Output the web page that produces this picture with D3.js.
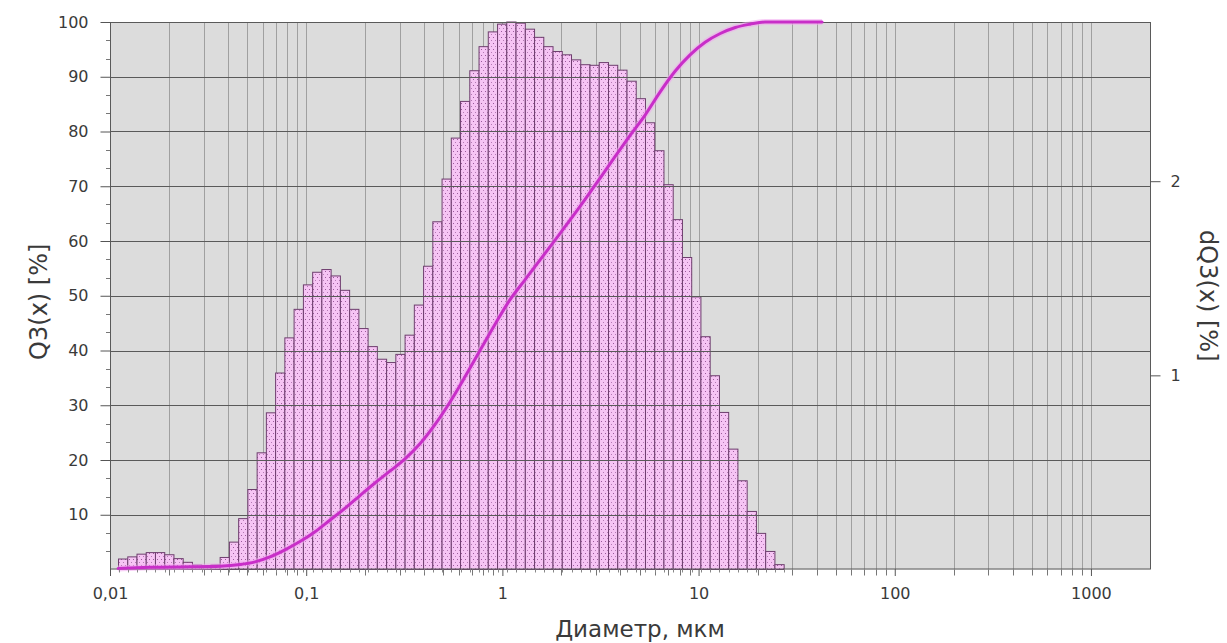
<!DOCTYPE html>
<html>
<head>
<meta charset="utf-8">
<script src="https://cdn.jsdelivr.net/npm/d3@7"></script>
<style>
  html, body { margin: 0; padding: 0; background: #ffffff; }
  svg { display: block; }
  text { font-family: "DejaVu Sans", Verdana, sans-serif; }
</style>
</head>
<body>
<svg id="chart" width="1227" height="643"></svg>
<script>
// Size class boundaries, µm
const binEdges = [
  0.01105, 0.01232, 0.01373, 0.01530, 0.01705, 0.01901, 0.02118, 0.02361, 0.02632, 0.02933,
  0.03269, 0.03643, 0.04061, 0.04526, 0.05044, 0.05623, 0.06267, 0.06984, 0.07785, 0.08677,
  0.09679, 0.1079, 0.1202, 0.1340, 0.1494, 0.1665, 0.1856, 0.2068, 0.2305, 0.2570,
  0.2864, 0.3192, 0.3558, 0.3966, 0.4420, 0.4927, 0.5491, 0.6120, 0.6822, 0.7604,
  0.8475, 0.9450, 1.053, 1.174, 1.309, 1.459, 1.626, 1.812, 2.020, 2.251,
  2.509, 2.797, 3.117, 3.475, 3.873, 4.317, 4.812, 5.363, 5.977, 6.662,
  7.426, 8.277, 9.227, 10.28, 11.46, 12.78, 14.24, 15.87, 17.69, 19.72,
  21.98, 24.50, 27.31
];

// Fraction in each size class, dQ3 [%]
const dQ3 = [
  0.054, 0.065, 0.079, 0.087, 0.087, 0.076, 0.056, 0.037, 0.023, 0.020,
  0.023, 0.062, 0.141, 0.262, 0.412, 0.601, 0.807, 1.012, 1.193, 1.340,
  1.466, 1.531, 1.545, 1.512, 1.438, 1.340, 1.241, 1.148, 1.083, 1.066,
  1.108, 1.207, 1.362, 1.562, 1.791, 2.011, 2.222, 2.411, 2.569, 2.693,
  2.769, 2.809, 2.820, 2.814, 2.783, 2.741, 2.693, 2.668, 2.651, 2.625,
  2.600, 2.597, 2.611, 2.597, 2.572, 2.515, 2.425, 2.301, 2.157, 1.982,
  1.802, 1.607, 1.404, 1.199, 0.998, 0.809, 0.620, 0.457, 0.299, 0.186,
  0.093, 0.025
];

// Cumulative distribution Q3(x) [%]
const q3Size = [
  0.011, 0.016, 0.0256, 0.0364, 0.046, 0.0549, 0.0654, 0.078, 0.093, 0.111,
  0.132, 0.158, 0.188, 0.224, 0.268, 0.319, 0.381, 0.454, 0.541, 0.645,
  0.769, 0.918, 1.09, 1.31, 1.56, 1.86, 2.21, 2.64, 3.15, 3.75,
  4.48, 5.34, 6.36, 7.59, 9.05, 10.8, 12.9, 15.4, 18.3, 21.8,
  42.6
];
const q3Value = [
  0.2, 0.4, 0.5, 0.6, 0.9, 1.4, 2.3, 3.6, 5.1, 6.9,
  9.0, 11.2, 13.5, 15.8, 18.0, 20.2, 23.0, 26.5, 30.6, 35.2,
  40.0, 44.8, 49.2, 53.0, 56.6, 60.2, 63.8, 67.6, 71.5, 75.4,
  79.3, 83.0, 87.2, 91.0, 94.0, 96.3, 97.9, 99.0, 99.6, 100,
  100
];

const leftTicks = [10, 20, 30, 40, 50, 60, 70, 80, 90, 100];
const rightTicks = [1, 2];
const xTicks = [0.01, 0.1, 1, 10, 100, 1000];
const xTickLabels = ["0,01", "0,1", "1", "10", "100", "1000"];

const plot = { left: 110, right: 1150, top: 22, bottom: 569.5 };

const svg = d3.select("#chart");

const x = d3.scaleLog().domain([0.01, 2000]).range([plot.left, plot.right]);
const yLeft = d3.scaleLinear().domain([0, 100]).range([plot.bottom, plot.top]);
const yRight = d3.scaleLinear().domain([0, 2.82]).range([plot.bottom, plot.top]);

// dotted fill for the histogram
const defs = svg.append("defs");
const pat = defs.append("pattern")
  .attr("id", "dots")
  .attr("patternUnits", "userSpaceOnUse")
  .attr("width", 4).attr("height", 6);
pat.append("rect").attr("width", 4).attr("height", 6).attr("fill", "#f6c4f4");
pat.append("rect").attr("x", 1).attr("y", 1).attr("width", 1).attr("height", 1).attr("fill", "#9c5a9c");
pat.append("rect").attr("x", 3).attr("y", 4).attr("width", 1).attr("height", 1).attr("fill", "#b47ab4");

// plot background
svg.append("rect")
  .attr("x", plot.left).attr("y", plot.top)
  .attr("width", plot.right - plot.left).attr("height", plot.bottom - plot.top)
  .attr("fill", "#dcdcdc");

// vertical grid at 1..9 × 10^k
const gridX = [];
for (let e = -2; e <= 3; e++) {
  for (let m = 1; m <= 9; m++) {
    const v = m * Math.pow(10, e);
    if (v > 0.01 && v < 2000) gridX.push(v);
  }
}
svg.append("g").selectAll("line").data(gridX).join("line")
  .attr("x1", d => Math.round(x(d)) + 0.5).attr("x2", d => Math.round(x(d)) + 0.5)
  .attr("y1", plot.top).attr("y2", plot.bottom)
  .attr("stroke", "#a0a0a0").attr("stroke-width", 1);

// histogram dQ3
svg.append("g").selectAll("rect").data(dQ3).join("rect")
  .attr("x", (d, i) => x(binEdges[i]))
  .attr("width", (d, i) => x(binEdges[i + 1]) - x(binEdges[i]))
  .attr("y", d => yRight(d))
  .attr("height", d => plot.bottom - yRight(d))
  .attr("fill", "url(#dots)")
  .attr("stroke", "#6e3e6e").attr("stroke-width", 1);

// horizontal grid
svg.append("g").selectAll("line").data(leftTicks.filter(d => d < 100)).join("line")
  .attr("x1", plot.left).attr("x2", plot.right)
  .attr("y1", d => Math.round(yLeft(d)) + 0.5).attr("y2", d => Math.round(yLeft(d)) + 0.5)
  .attr("stroke", "#5a5a5a").attr("stroke-width", 1);

// frame
svg.append("rect")
  .attr("x", plot.left + 0.5).attr("y", plot.top + 0.5)
  .attr("width", plot.right - plot.left).attr("height", plot.bottom - plot.top - 1)
  .attr("fill", "none").attr("stroke", "#5a5a5a").attr("stroke-width", 1);

// cumulative curve Q3
const pts = q3Size.map((s, i) => [x(s), yLeft(q3Value[i])]);
const line = d3.line().curve(d3.curveMonotoneX);
svg.append("path").attr("d", line(pts))
  .attr("fill", "none").attr("stroke", "#f2a6f0").attr("stroke-width", 6)
  .attr("stroke-opacity", 0.55).attr("stroke-linejoin", "round");
svg.append("path").attr("d", line(pts))
  .attr("fill", "none").attr("stroke", "#c82ec8").attr("stroke-width", 3)
  .attr("stroke-linejoin", "round").attr("stroke-linecap", "round");

// left axis
const leftAxis = d3.axisLeft(yLeft).tickValues(leftTicks).tickSize(10).tickPadding(12)
  .tickFormat(d3.format("d"));
const gl = svg.append("g").attr("transform", `translate(${plot.left + 0.5},0)`).call(leftAxis);
gl.select(".domain").remove();
gl.selectAll(".tick line").attr("stroke", "#555");
gl.selectAll(".tick text").attr("font-size", 16).attr("fill", "#3a3a3a")
  .attr("font-family", "DejaVu Sans, sans-serif");

// left minor ticks (thirds)
const leftMinor = [];
for (let v = 0; v < 100; v += 10) { leftMinor.push(v + 10 / 3, v + 20 / 3); }
svg.append("g").selectAll("line").data(leftMinor).join("line")
  .attr("x1", plot.left - 4).attr("x2", plot.left)
  .attr("y1", d => Math.round(yLeft(d)) + 0.5).attr("y2", d => Math.round(yLeft(d)) + 0.5)
  .attr("stroke", "#777");

// right axis
const rightAxis = d3.axisRight(yRight).tickValues(rightTicks).tickSize(10).tickPadding(10)
  .tickFormat(d3.format("d"));
const gr = svg.append("g").attr("transform", `translate(${plot.right + 0.5},0)`).call(rightAxis);
gr.select(".domain").remove();
gr.selectAll(".tick line").attr("stroke", "#555");
gr.selectAll(".tick text").attr("font-size", 16).attr("fill", "#3a3a3a")
  .attr("font-family", "DejaVu Sans, sans-serif");

// bottom axis
const bottomAxis = d3.axisBottom(x).tickValues(xTicks).tickSize(7).tickPadding(12)
  .tickFormat((d, i) => xTickLabels[i]);
const gb = svg.append("g").attr("transform", `translate(0,${plot.bottom - 0.5})`).call(bottomAxis);
gb.select(".domain").remove();
gb.selectAll(".tick line").attr("stroke", "#555");
gb.selectAll(".tick text").attr("font-size", 16).attr("fill", "#3a3a3a")
  .attr("font-family", "DejaVu Sans, sans-serif");

// bottom minor ticks
svg.append("g").selectAll("line").data(gridX.filter(d => !xTicks.includes(d))).join("line")
  .attr("x1", d => Math.round(x(d)) + 0.5).attr("x2", d => Math.round(x(d)) + 0.5)
  .attr("y1", plot.bottom).attr("y2", plot.bottom + 6)
  .attr("stroke", "#777");
svg.append("g").selectAll("line").data(binEdges).join("line")
  .attr("x1", d => Math.round(x(d)) + 0.5).attr("x2", d => Math.round(x(d)) + 0.5)
  .attr("y1", plot.bottom).attr("y2", plot.bottom + 3)
  .attr("stroke", "#888");

// axis titles
svg.append("text")
  .attr("transform", `translate(47,${(plot.top + plot.bottom) / 2 + 6}) rotate(-90)`)
  .attr("text-anchor", "middle")
  .attr("font-size", 24).attr("fill", "#3a3a3a")
  .text("Q3(x) [%]");

svg.append("text")
  .attr("transform", `translate(1200,${(plot.top + plot.bottom) / 2}) rotate(90)`)
  .attr("text-anchor", "middle")
  .attr("font-size", 24).attr("fill", "#3a3a3a")
  .text("dQ3(x) [%]");

svg.append("text")
  .attr("x", 640).attr("y", 637)
  .attr("text-anchor", "middle")
  .attr("font-size", 23).attr("fill", "#3a3a3a")
  .text("Диаметр, мкм");
</script>
</body>
</html>
